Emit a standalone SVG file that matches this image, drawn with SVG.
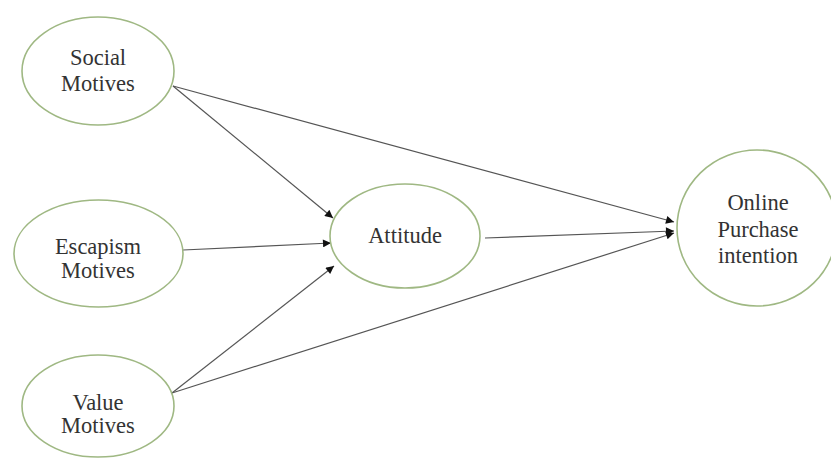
<svg xmlns="http://www.w3.org/2000/svg" width="831" height="459" viewBox="0 0 831 459">
<style>
.n{fill:#fff;stroke:#9fb883;stroke-width:1.6}
.t{font-family:"Liberation Serif","Times New Roman",serif;font-size:22.5px;fill:#333;text-anchor:middle}
.c{stroke:#555;stroke-width:1.2;fill:none;marker-end:url(#a)}
</style>
<defs>
<marker id="a" viewBox="0 0 10 10" refX="10" refY="5" markerWidth="11" markerHeight="8" markerUnits="userSpaceOnUse" orient="auto">
<path d="M0,0 L10,5 L0,10 z" fill="#111"/>
</marker>
</defs>
<rect width="831" height="459" fill="#fff"/>
<g id="connectors">
<line class="c" x1="173" y1="86" x2="333" y2="218"/>
<line class="c" x1="173" y1="86" x2="674" y2="222"/>
<line class="c" x1="183" y1="250" x2="331" y2="243"/>
<line class="c" x1="172" y1="393" x2="334" y2="266"/>
<line class="c" x1="172" y1="393" x2="674" y2="233"/>
<line class="c" x1="485" y1="238" x2="674" y2="231"/>
</g>
<g id="social">
<ellipse class="n" cx="98" cy="71" rx="76" ry="54"/>
<text class="t" x="98" y="65">Social</text>
<text class="t" x="98" y="91">Motives</text>
</g>
<g id="escapism">
<ellipse class="n" cx="98.5" cy="253.5" rx="84.5" ry="53.5"/>
<text class="t" x="98" y="254">Escapism</text>
<text class="t" x="98" y="278">Motives</text>
</g>
<g id="value">
<ellipse class="n" cx="98" cy="406" rx="76" ry="51"/>
<text class="t" x="98" y="410">Value</text>
<text class="t" x="98" y="433">Motives</text>
</g>
<g id="attitude">
<ellipse class="n" cx="405" cy="236" rx="75" ry="52"/>
<text class="t" x="405" y="243">Attitude</text>
</g>
<g id="online">
<ellipse class="n" cx="757" cy="228" rx="80" ry="78"/>
<text class="t" x="758" y="210">Online</text>
<text class="t" x="758" y="237">Purchase</text>
<text class="t" x="758" y="263">intention</text>
</g>
</svg>
